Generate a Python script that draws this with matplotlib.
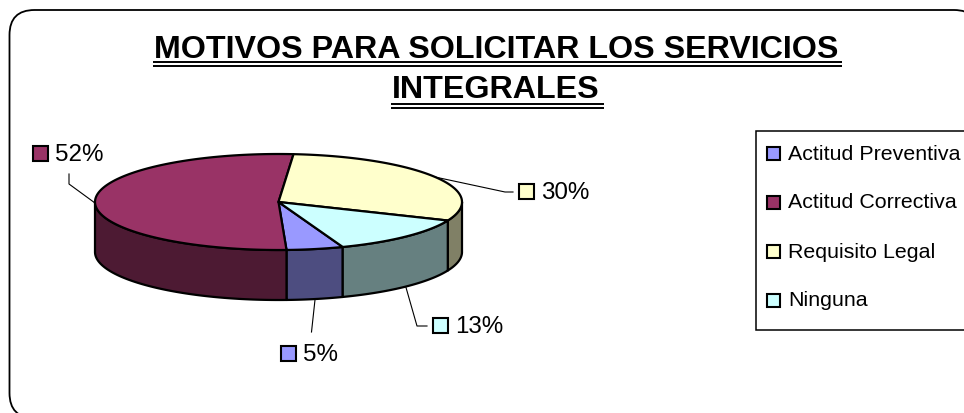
## pie 3D look, motivos para solicitar los servicios

import numpy as np
import matplotlib
matplotlib.use('Agg')
import matplotlib.pyplot as plt
from matplotlib.patches import Polygon, Rectangle, FancyBboxPatch

categories = ['Actitud Preventiva', 'Actitud Correctiva', 'Requisito Legal', 'Ninguna']
values = [5, 52, 30, 13]
title_lines = ['MOTIVOS PARA SOLICITAR LOS SERVICIOS', 'INTEGRALES']

top_colors = ['#9999FF', '#993366', '#FFFFCC', '#CCFFFF']
side_colors = ['#4D4D80', '#4D1A33', '#808066', '#668080']

# pie geometry in pixels
cx, cy = 278.5, 202
rx, ry = 183.5, 48
depth = 50
first_angle = 159.5   # clockwise from top

# label layout: square left, square top, text x, leader bend points
label_pos = [
    (281, 346, 303, [(311.5, 332)]),
    (33, 146, 55, [(95, 203), (69, 184), (69, 174)]),
    (519, 184, 541, [(505, 192), (513, 192)]),
    (433, 318, 455, [(417, 326), (427, 326)]),
]


def ell(a, dy=0):
    # a in degrees clockwise from top
    r = np.radians(a)
    return np.column_stack((cx + rx * np.sin(r), cy - ry * np.cos(r) + dy))


plt.rcParams['font.family'] = ['Liberation Sans', 'DejaVu Sans']
fig = plt.figure(figsize=(9.64, 4.13), dpi=100)
ax = fig.add_axes([0, 0, 1, 1])
ax.set_xlim(0, 964)
ax.set_ylim(413, 0)
ax.axis('off')

ax.add_patch(FancyBboxPatch((34.5, 35), 919.5, 358, boxstyle='round,pad=25,rounding_size=25',
                            fc='white', ec='black', lw=1.3))

# slices
fracs = np.array(values) / sum(values) * 360
starts = first_angle + np.concatenate(([0], np.cumsum(fracs)[:-1]))
ends = starts + fracs

lw = 1.6
# side walls, only the front half shows
for k in range(len(values)):
    for shift in (0, 360):
        a0 = max(starts[k] - shift, 90)
        a1 = min(ends[k] - shift, 270)
        if a1 > a0:
            t = np.linspace(a0, a1, 80)
            pts = np.vstack((ell(t), ell(t[::-1], depth)))
            ax.add_patch(Polygon(pts, fc=side_colors[k], ec='black', lw=lw, joinstyle='round', zorder=2))

# top faces
for k in range(len(values)):
    t = np.linspace(starts[k], ends[k], 120)
    pts = np.vstack(([[cx, cy]], ell(t)))
    ax.add_patch(Polygon(pts, fc=top_colors[k], ec='black', lw=lw, joinstyle='round', zorder=3))

# data labels with leaders
for k in range(len(values)):
    sx, sy, tx, bends = label_pos[k]
    mid = (starts[k] + ends[k]) / 2
    p = ell(mid)[0]
    if 90 < mid % 360 < 270:
        p = ell(mid, depth)[0]
    if k == 1:
        xs = [q[0] for q in bends]
        ys = [q[1] for q in bends]
    else:
        xs = [p[0]] + [q[0] for q in bends]
        ys = [p[1]] + [q[1] for q in bends]
    ax.plot(xs, ys, color='black', lw=0.8, zorder=1)
    ax.add_patch(Rectangle((sx, sy), 14.5, 14.5, fc=top_colors[k], ec='black', lw=1.5, zorder=4))
    ax.text(tx, sy + 6.5, f'{values[k]}%', fontsize=17.4, va='center_baseline', ha='left', color='black')

# legend
ax.add_patch(Rectangle((755.5, 131), 230, 199, fc='white', ec='black', lw=1.1, zorder=1))
legend_y = [153, 202, 251, 300]
for k in range(len(categories)):
    ax.add_patch(Rectangle((767, legend_y[k] - 6), 13, 12.5, fc=top_colors[k], ec='black', lw=1.5, zorder=4))
    ax.text(788, legend_y[k] - 1, categories[k], fontsize=15.4, va='center_baseline', ha='left', color='black')

# title, double underline by hand
fig.canvas.draw()
rend = fig.canvas.get_renderer()
title_y = [49.5, 90.5]
under_y = [(62, 65.5), (103.5, 107.5)]
for k in range(2):
    txt = ax.text(496, title_y[k], title_lines[k], fontsize=23.2, fontweight='bold',
                  ha='center', va='center', color='black')
    bb = txt.get_window_extent(rend)
    for uy in under_y[k]:
        ax.plot([bb.x0 - 1, bb.x1 + 4], [uy, uy], color='black', lw=1.4, solid_capstyle='butt')

fig.savefig('out.png', dpi=100)
